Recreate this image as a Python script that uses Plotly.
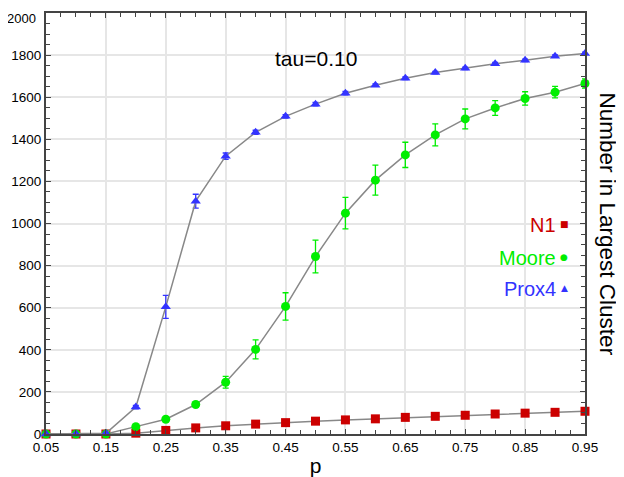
import plotly.graph_objects as go

p = [0.05, 0.10, 0.15, 0.20, 0.25, 0.30, 0.35, 0.40, 0.45, 0.50,
     0.55, 0.60, 0.65, 0.70, 0.75, 0.80, 0.85, 0.90, 0.95]

n1 = [0, 0, 0, 4, 17, 29, 39, 47, 54, 61, 67, 72, 79, 84, 89, 95, 99, 103, 108]
n1_err = [0] * 19

moore = [0, 0, 0, 35, 70, 140, 246, 402, 606, 843, 1049, 1206, 1326, 1421,
         1497, 1549, 1594, 1624, 1665]
moore_err = [0, 0, 0, 4, 6, 10, 28, 45, 65, 78, 75, 71, 60, 52, 47, 35, 32, 27, 22]

prox4 = [0, 0, 3, 128, 604, 1106, 1320, 1433, 1509, 1567, 1619, 1657, 1690,
         1717, 1737, 1759, 1775, 1795, 1808]
prox4_err = [0, 0, 0, 8, 55, 33, 15, 10, 8, 8, 8, 6, 6, 6, 6, 6, 6, 6, 6]

y_tickvals = [0, 200, 400, 600, 800, 1000, 1200, 1400, 1600, 1800, 2000]
y_ticktext = ["0", "200", "400", "600", "800", "1000", "1200", "1400", "1600",
              "1800", ""]  # top label drawn separately so it is not clipped
y_top_label = "2000"

series_names = ["N1", "Moore", "Prox4"]
series_colors = ["#cc0000", "#00ee00", "#3333ff"]
series_symbols = ["square", "circle", "triangle-up"]
legend_glyphs = ["■", "●", "▲"]

FONT = "Liberation Sans, Arial, Helvetica, sans-serif"
LINE = "#888888"

# the page adds an 8px body margin; target plot box in screenshot pixels:
OFF = 8
W, H = 624, 477
BOX_L, BOX_R, BOX_T, BOX_B = 46, 585.5, 13, 434
L = BOX_L - OFF
R = W - (BOX_R - OFF)
T = BOX_T - OFF
B = H - (BOX_B - OFF)

fig = go.Figure()
for name, ys, errs, col, sym in zip(series_names, [n1, moore, prox4],
                                    [n1_err, moore_err, prox4_err],
                                    series_colors, series_symbols):
    fig.add_trace(go.Scatter(
        x=p, y=ys, name=name, mode="lines+markers",
        line=dict(color=LINE, width=1.5),
        marker=dict(color=col, symbol=sym, size=9, line=dict(width=0)),
        error_y=dict(type="data", array=errs, color=col, thickness=1.3, width=3,
                     visible=True),
        cliponaxis=False, showlegend=False,
    ))

fig.update_layout(
    width=W, height=H,
    margin=dict(l=L, r=R, t=T, b=B, autoexpand=False),
    paper_bgcolor="white", plot_bgcolor="white",
    font=dict(family=FONT, color="black", size=13),
    showlegend=False,
)

fig.update_xaxes(
    range=[0.05, 0.95], tick0=0.05, dtick=0.1, tickformat=".2f",
    showgrid=True, gridcolor="#e6e6e6", gridwidth=1.5,
    showline=True, linecolor="#444444", linewidth=2, mirror="ticks",
    ticks="inside", ticklen=5, tickcolor="#444444", tickwidth=1,
    minor=dict(dtick=0.025, tick0=0.05, ticks="inside", ticklen=4,
               tickcolor="#444444", showgrid=False),
    tickfont=dict(size=13.5), zeroline=False, automargin=False,
    ticklabeloverflow="allow",
    title=dict(text="p", font=dict(size=21), standoff=4),
)
fig.update_yaxes(
    range=[0, 2000], tickmode="array", tickvals=y_tickvals, ticktext=y_ticktext,
    showgrid=True, gridcolor="#e6e6e6", gridwidth=1.5,
    showline=True, linecolor="#444444", linewidth=2, mirror="ticks",
    ticks="inside", ticklen=5, tickcolor="#444444", tickwidth=1,
    minor=dict(dtick=50, ticks="inside", ticklen=4, tickcolor="#444444",
               showgrid=False),
    tickfont=dict(size=13.5), zeroline=False, automargin=False,
    ticklabeloverflow="allow",
)

def px(xpix):
    return (xpix - BOX_L) / (BOX_R - BOX_L)

def py(ypix):
    return (BOX_B - ypix) / (BOX_B - BOX_T)

# top y tick label, nudged down slightly so it stays inside the page
fig.add_annotation(x=px(37), y=py(9.5), xref="paper", yref="paper",
                   text=y_top_label, showarrow=False, xanchor="right",
                   yanchor="top", borderpad=0,
                   font=dict(size=13, family=FONT))

# tau annotation
fig.add_annotation(x=px(316), y=py(58), xref="paper", yref="paper", text="tau=0.10",
                   showarrow=False, xanchor="center", yanchor="middle",
                   font=dict(size=21, family=FONT))

# right-side title, reading top to bottom
fig.add_annotation(x=px(609), y=py(224), xref="paper", yref="paper",
                   text="Number in Largest Cluster", showarrow=False,
                   xanchor="center", yanchor="middle",
                   textangle=90, font=dict(size=22.5, family=FONT))

# legend as colored text with glyph to the right
leg_y = [225, 258, 289]
for name, col, g, yy in zip(series_names, series_colors, legend_glyphs, leg_y):
    fig.add_annotation(x=px(558), y=py(yy), xref="paper", yref="paper",
                       text=name, showarrow=False, xanchor="right",
                       yanchor="middle",
                       font=dict(size=20, color=col, family=FONT))
    fig.add_annotation(x=px(564.5), y=py(yy - 1), xref="paper", yref="paper",
                       text=g, showarrow=False, xanchor="center",
                       yanchor="middle",
                       font=dict(size=9, color=col, family="DejaVu Sans"))

fig.write_html("out.html")
